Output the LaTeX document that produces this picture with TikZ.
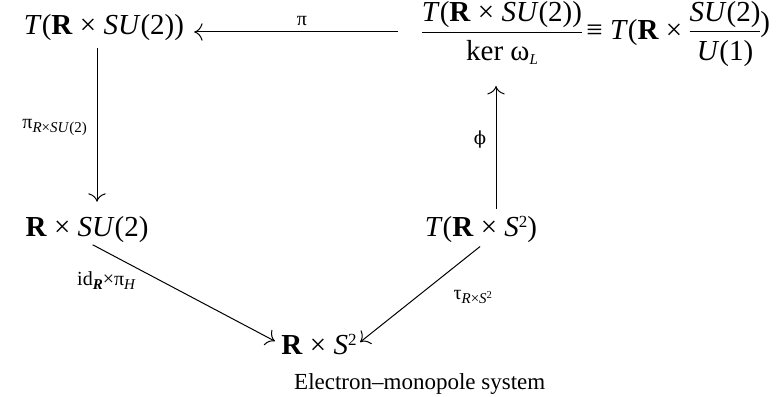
\documentclass[tikz,border=0pt]{standalone}
\usepackage{fontspec}
\setmainfont{Liberation Serif}
\newfontfamily\dvs{DejaVu Serif}
\usetikzlibrary{arrows.meta}
\newcommand{\bR}{\textbf{R}}
\newcommand{\It}[1]{\textit{#1}}
\newcommand{\sub}[1]{\raisebox{-4pt}{\fontsize{15}{17}\selectfont #1}}
\newcommand{\sq}{\raisebox{9pt}{\fontsize{17}{19}\selectfont 2}}
\newcommand{\frc}[2]{{\renewcommand{\arraystretch}{0}%
  \begin{tabular}[c]{@{}c@{}}\rule[-10pt]{0pt}{30pt}#1\\\hline\rule[-5pt]{0pt}{33pt}#2\end{tabular}}}
\setlength{\arrayrulewidth}{1pt}
\begin{document}
\begin{tikzpicture}[x=1pt,y=-1pt,
  every node/.style={inner sep=1pt, font=\fontsize{29}{34}\selectfont},
  lbl/.style={font=\fontsize{20}{24}\selectfont},
  captext/.style={font=\fontsize{23}{27}\selectfont},
  arr/.style={-{To[scale=2.2]}, line width=1pt},
]
\useasboundingbox (0,0) rectangle (778,396);
\node[anchor=base] (A) at (104,35) {\It{T}(\bR\ × \It{SU}(2))};
\node[anchor=base] (B) at (502,40) {\frc{\It{T}(\bR\ × \It{SU}(2))}{ker ω\sub{\It{L}}}};
\node[anchor=base west] (Bx) at (B.base east) {\hspace{2pt}≡ \It{T}(\bR\ × \frc{\It{SU}(2)}{\It{U}(1)}\raisebox{8pt}{)}};
\node[anchor=base] (C) at (87,236) {\bR\ × \It{SU}(2)};
\node[anchor=base] (D) at (481,236) {\It{T}(\bR\ × \It{S}\sq)};
\node[anchor=base] (E) at (319,354) {\bR\ × \It{S}\sq};
\node[captext, anchor=base west] (caption) at (293,389) {Electron–monopole system};

\draw[arr, shorten <=23pt, shorten >=9pt] ([yshift=3pt]A.base east -| B.west) -- ([yshift=3pt]A.base east);
\node[lbl] (lpi) at (302,21) {π};

\draw[arr, shorten <=6pt, shorten >=13pt] ([xshift=-7pt]A.south) -- ([xshift=-7pt]A.south |- C.north);
\node[lbl, anchor=east] (lpiR) at (88,128) {π\sub{\It{R}×\It{SU}(2)}};

\draw[arr, shorten <=6pt, shorten >=19pt] ([xshift=15pt]D.north) -- ([xshift=15pt]D.north |- B.south);
\node[lbl] (lphi) at (480,140) {{\dvs\fontsize{18}{20}\selectfont ϕ}};

\draw[arr, shorten <=3pt, shorten >=6pt] ([xshift=3pt]C.south) -- (E.west);
\draw[arr, shorten <=5pt, shorten >=3pt] ([xshift=3pt]D.south) -- (E.east);
\node[lbl, anchor=base west] (lid) at (76,285) {id\sub{\textbf{\It{R}}}×π\sub{\It{H}}};
\node[lbl] (ltau) at (473,297) {τ\sub{\It{R}×\It{S}\textsuperscript{2}}};
\end{tikzpicture}
\end{document}
